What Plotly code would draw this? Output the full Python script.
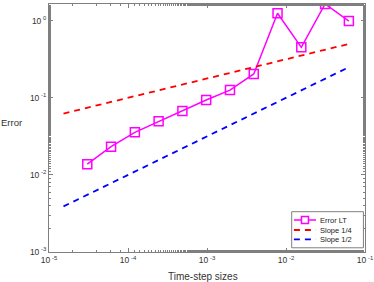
import plotly.graph_objects as go

# Data
dt = [2**-15, 2**-14, 2**-13, 2**-12, 2**-11, 2**-10, 2**-9, 2**-8, 2**-7, 2**-6, 2**-5, 2**-4]
err_lt = [0.0138, 0.0232, 0.0357, 0.0496, 0.0675, 0.0937, 0.126, 0.204, 1.25, 0.452, 1.65, 0.99]

ref_x = [2**-16, 2**-4]
slope14_y = [0.0625, 0.5]
slope12_y = [0.0039, 0.25]

x_tickvals = [1e-5, 1e-4, 1e-3, 1e-2, 1e-1]
x_ticktext = ["10<sup> -5</sup>", "10<sup> -4</sup>", "10<sup> -3</sup>", "10<sup> -2</sup>", "10<sup> -1</sup>"]
y_tickvals = [1e-3, 1e-2, 1e-1, 1e0]
y_ticktext = ["10<sup> -3</sup>", "10<sup> -2</sup>", "10<sup> -1</sup>", "10<sup> 0</sup>"]

legend_names = ["Error LT", "Slope 1/4", "Slope 1/2"]
colors = ["#ff00ff", "#ff0000", "#0000ff"]

FONT = "Liberation Sans, Arial, sans-serif"
AX = "#7f7f7f"
TXT = "#333333"

fig = go.Figure()
fig.add_trace(go.Scatter(x=dt, y=err_lt, mode="lines+markers", name=legend_names[0],
                         line=dict(color=colors[0], width=1.5),
                         marker=dict(symbol="square-open", size=9, color=colors[0],
                                     line=dict(width=1.5, color=colors[0]))))
fig.add_trace(go.Scatter(x=ref_x, y=slope14_y, mode="lines", name=legend_names[1],
                         line=dict(color=colors[1], width=1.8, dash="6px,5px")))
fig.add_trace(go.Scatter(x=ref_x, y=slope12_y, mode="lines", name=legend_names[2],
                         line=dict(color=colors[2], width=1.8, dash="6px,5px")))

axis_common = dict(type="log", showgrid=False, zeroline=False, showline=True,
                   linecolor=AX, linewidth=1, mirror="ticks", ticks="inside",
                   ticklen=4, tickcolor=AX, automargin=False,
                   tickfont=dict(size=8.5, color=TXT, family=FONT),
                   minor=dict(ticks="inside", ticklen=2, tickcolor=AX, showgrid=False))

fig.update_xaxes(range=[-5, -1], tickvals=x_tickvals, ticktext=x_ticktext, ticklabelstandoff=0, **axis_common)
fig.update_yaxes(range=[-3, 0.217], tickvals=y_tickvals, ticktext=y_ticktext, **axis_common)

# Custom compact legend (MATLAB style) in paper coordinates
shapes = [dict(type="rect", xref="paper", yref="paper", x0=0.768, x1=0.995, y0=0.017, y1=0.1625,
               line=dict(color=AX, width=1), fillcolor="white", layer="above")]
annotations = []
rows_y = [0.129, 0.0887, 0.051]
lx0, lx1, tx = 0.775, 0.845, 0.852
for i, (name, col, ry) in enumerate(zip(legend_names, colors, rows_y)):
    shapes.append(dict(type="line", xref="paper", yref="paper", x0=lx0, x1=lx1, y0=ry, y1=ry,
                       line=dict(color=col, width=1.5 if i == 0 else 1.8,
                                 dash="solid" if i == 0 else "6px,5px"), layer="above"))
    if i == 0:
        cx = (lx0 + lx1) / 2
        shapes.append(dict(type="rect", xref="paper", yref="paper",
                           x0=cx - 0.011, x1=cx + 0.011, y0=ry - 0.014, y1=ry + 0.014,
                           line=dict(color=col, width=1.5), fillcolor="white", layer="above"))
    annotations.append(dict(text=name, x=tx, y=ry, xref="paper", yref="paper",
                            xanchor="left", yanchor="middle", showarrow=False,
                            font=dict(size=7.5, family=FONT, color="#222222")))

annotations.append(dict(text="Error", x=0, xref="paper", xanchor="right", xshift=-25,
                        y=0.521, yref="paper", yanchor="middle", showarrow=False,
                        font=dict(size=9.5, family=FONT, color=TXT)))
annotations.append(dict(text="Time-step sizes", x=0.487, xref="paper", xanchor="center",
                        y=-0.097, yref="paper", yanchor="middle", showarrow=False,
                        font=dict(size=10, family=FONT, color=TXT)))

fig.update_layout(
    width=374, height=282,
    margin=dict(l=49, r=9, t=4, b=30),
    plot_bgcolor="white", paper_bgcolor="white",
    font=dict(family=FONT, size=9, color=TXT),
    showlegend=False,
    shapes=shapes,
    annotations=annotations,
)

fig.write_html("out.html", config={"displayModeBar": False},
               post_script="document.body.style.margin='0';document.body.style.overflow='hidden';")
